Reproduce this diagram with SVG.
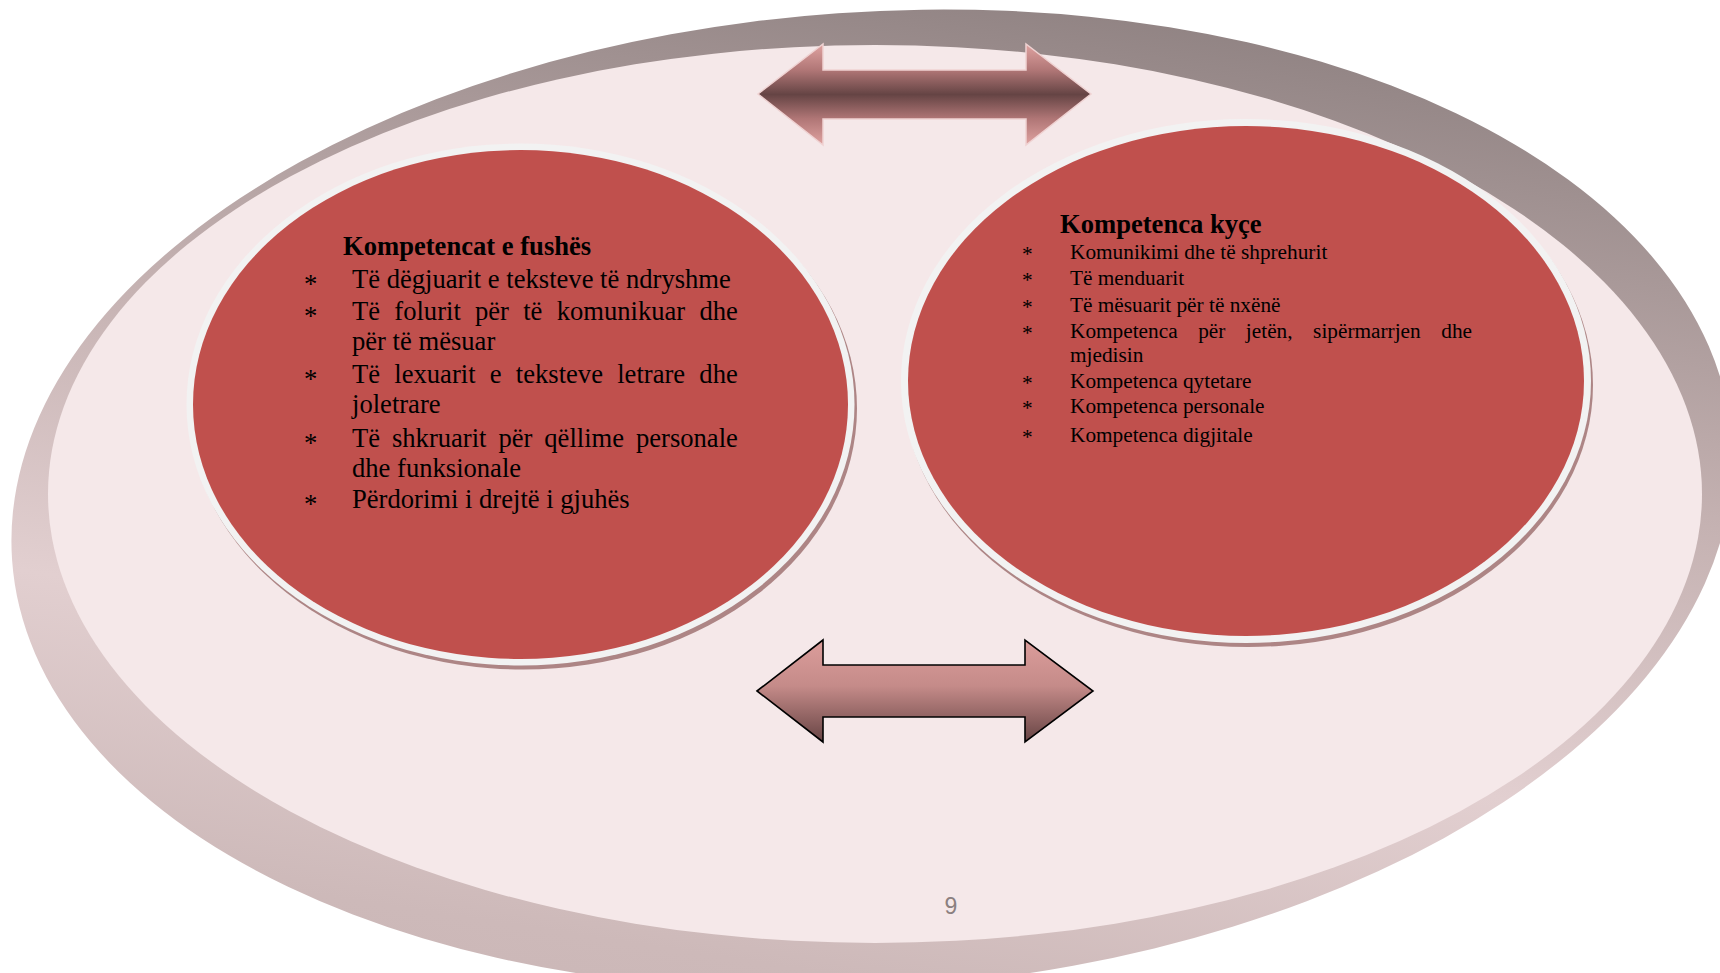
<svg xmlns="http://www.w3.org/2000/svg" width="1720" height="973" viewBox="0 0 1720 973">
<defs>
<linearGradient id="rim" x1="0.7" y1="0" x2="0.3" y2="1">
<stop offset="0" stop-color="#8d8080"/>
<stop offset="0.4" stop-color="#c4b1b1"/>
<stop offset="0.68" stop-color="#e2cfd0"/>
<stop offset="0.93" stop-color="#cdb9b9"/>
<stop offset="1" stop-color="#cbb7b7"/>
</linearGradient>
<linearGradient id="gTop" gradientUnits="userSpaceOnUse" x1="0" y1="44" x2="0" y2="145">
<stop offset="0" stop-color="#e0a3a1"/>
<stop offset="0.26" stop-color="#b07676"/>
<stop offset="0.5" stop-color="#654444"/>
<stop offset="0.74" stop-color="#b07676"/>
<stop offset="1" stop-color="#e0a3a1"/>
</linearGradient>
<linearGradient id="gBot" gradientUnits="userSpaceOnUse" x1="0" y1="640" x2="0" y2="742">
<stop offset="0" stop-color="#dc9d9b"/>
<stop offset="0.45" stop-color="#c58b89"/>
<stop offset="1" stop-color="#674444"/>
</linearGradient>
<style>
.red{fill:#c0504d}
.ring{fill:#f2f2f2}
.shd{fill:#ad8585}
.t{font-family:"Liberation Serif","Times New Roman",serif;fill:#000}
.lt{font-size:26.6px}
.rt{font-size:21.3px}
.h{font-size:26.6px;font-weight:bold}
</style>
</defs>
<g id="background">
<ellipse cx="872" cy="500" rx="862" ry="488" transform="rotate(-4 872 500)" fill="url(#rim)"/>
<ellipse cx="875" cy="494" rx="827" ry="449" fill="#f5e8e9"/>
</g>
<g id="connectors">
<path d="M758,94 L823,44 L823,70 L1026,70 L1026,44 L1091,94 L1026,145 L1026,119 L823,119 L823,145 Z" fill="url(#gTop)" stroke="#efd2d2" stroke-width="1.5"/>
<path d="M757,691 L823,640 L823,665 L1025,665 L1025,640 L1093,691 L1025,742 L1025,717 L823,717 L823,742 Z" fill="url(#gBot)" stroke="#000" stroke-width="1.6" stroke-linejoin="miter"/>
</g>
<g id="node-left">
<ellipse class="shd" cx="523" cy="408.5" rx="334" ry="261"/>
<ellipse class="ring" cx="520.5" cy="404.5" rx="334" ry="261"/>
<ellipse class="red" cx="520.5" cy="404.5" rx="327.5" ry="254.5"/>
<text class="t h" x="343" y="255">Kompetencat e fushës</text>
<text class="t lt" x="304" y="293">*</text>
<text class="t lt" x="352" y="288">Të dëgjuarit e teksteve të ndryshme</text>
<text class="t lt" x="304" y="325">*</text>
<text class="t lt" x="352" y="320" word-spacing="7.6">Të folurit për të komunikuar dhe</text>
<text class="t lt" x="352" y="350">për të mësuar</text>
<text class="t lt" x="304" y="388">*</text>
<text class="t lt" x="352" y="383" word-spacing="7.6">Të lexuarit e teksteve letrare dhe</text>
<text class="t lt" x="352" y="413">joletrare</text>
<text class="t lt" x="304" y="452">*</text>
<text class="t lt" x="352" y="447" word-spacing="5.27">Të shkruarit për qëllime personale</text>
<text class="t lt" x="352" y="477">dhe funksionale</text>
<text class="t lt" x="304" y="513">*</text>
<text class="t lt" x="352" y="508">Përdorimi i drejtë i gjuhës</text>
</g>
<g id="node-right">
<ellipse class="shd" cx="1248" cy="385" rx="345" ry="262"/>
<ellipse class="ring" cx="1246" cy="381" rx="345" ry="262"/>
<ellipse class="red" cx="1246" cy="381" rx="338" ry="255"/>
<text class="t h" x="1060" y="233">Kompetenca kyçe</text>
<text class="t rt" x="1022" y="261">*</text>
<text class="t rt" x="1070" y="259">Komunikimi dhe të shprehurit</text>
<text class="t rt" x="1022" y="287">*</text>
<text class="t rt" x="1070" y="285">Të menduarit</text>
<text class="t rt" x="1022" y="314">*</text>
<text class="t rt" x="1070" y="312">Të mësuarit për të nxënë</text>
<text class="t rt" x="1022" y="340">*</text>
<text class="t rt" x="1070" y="338" word-spacing="15.2">Kompetenca për jetën, sipërmarrjen dhe</text>
<text class="t rt" x="1070" y="362">mjedisin</text>
<text class="t rt" x="1022" y="390">*</text>
<text class="t rt" x="1070" y="388">Kompetenca qytetare</text>
<text class="t rt" x="1022" y="415">*</text>
<text class="t rt" x="1070" y="413">Kompetenca personale</text>
<text class="t rt" x="1022" y="444">*</text>
<text class="t rt" x="1070" y="442">Kompetenca digjitale</text>
</g>
<text x="951" y="914" text-anchor="middle" font-family="'Liberation Sans', Arial, sans-serif" font-size="23" fill="#8b8080">9</text>
</svg>
